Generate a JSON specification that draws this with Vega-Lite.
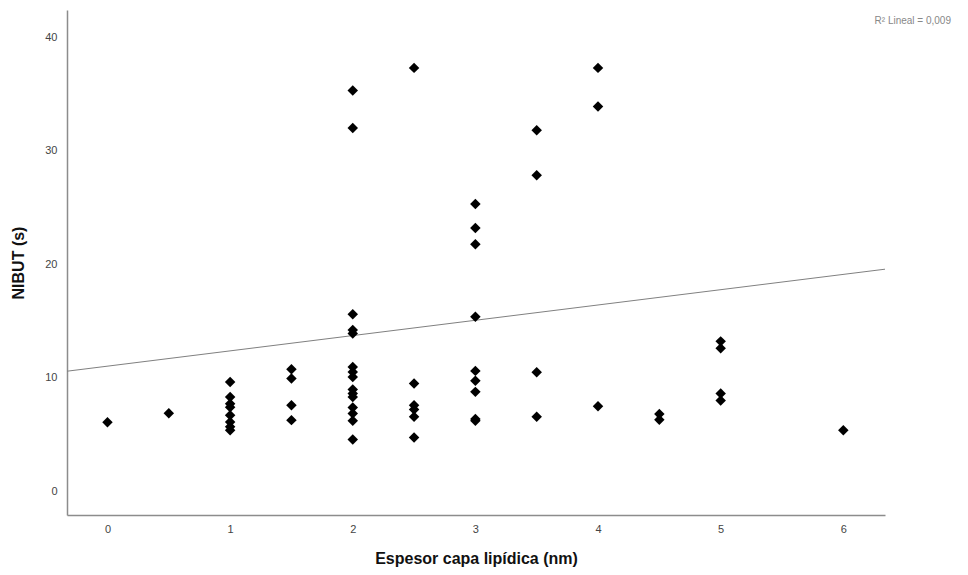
{
  "$schema": "https://vega.github.io/schema/vega-lite/v6.json",
  "width": 818,
  "height": 505,
  "autosize": {"type": "none"},
  "padding": {"left": 67, "top": 10, "right": 83, "bottom": 60},
  "background": "white",
  "config": {
    "view": {"stroke": null},
    "font": "Liberation Sans",
    "axis": {"grid": false, "domainColor": "#8c8c8c", "domainWidth": 1.5, "ticks": false, "labelColor": "#444444", "labelFontSize": 11, "titleFontSize": 16, "titleFontWeight": "bold", "titleColor": "#111111"}
  },
  "title": {"text": "R² Lineal = 0,009", "anchor": "end", "orient": "top", "fontSize": 10, "fontWeight": "normal", "color": "#888888", "dx": 66, "dy": 16, "offset": 0},
  "datasets": {
    "pts": [
      {"espesor": 0, "nibut": 6.08},
      {"espesor": 0.5, "nibut": 6.87},
      {"espesor": 1, "nibut": 9.63},
      {"espesor": 1, "nibut": 8.3},
      {"espesor": 1, "nibut": 7.7},
      {"espesor": 1, "nibut": 7.4},
      {"espesor": 1, "nibut": 6.7},
      {"espesor": 1, "nibut": 6.1},
      {"espesor": 1, "nibut": 5.67},
      {"espesor": 1, "nibut": 5.37},
      {"espesor": 1.5, "nibut": 10.75},
      {"espesor": 1.5, "nibut": 9.93},
      {"espesor": 1.5, "nibut": 7.58},
      {"espesor": 1.5, "nibut": 6.26},
      {"espesor": 2, "nibut": 35.3},
      {"espesor": 2, "nibut": 32.0},
      {"espesor": 2, "nibut": 15.6},
      {"espesor": 2, "nibut": 14.2},
      {"espesor": 2, "nibut": 13.9},
      {"espesor": 2, "nibut": 10.95},
      {"espesor": 2, "nibut": 10.5},
      {"espesor": 2, "nibut": 10.07},
      {"espesor": 2, "nibut": 8.96},
      {"espesor": 2, "nibut": 8.6},
      {"espesor": 2, "nibut": 8.3},
      {"espesor": 2, "nibut": 7.37},
      {"espesor": 2, "nibut": 6.84},
      {"espesor": 2, "nibut": 6.2},
      {"espesor": 2, "nibut": 4.55},
      {"espesor": 2.5, "nibut": 37.3},
      {"espesor": 2.5, "nibut": 9.49},
      {"espesor": 2.5, "nibut": 7.58},
      {"espesor": 2.5, "nibut": 7.2},
      {"espesor": 2.5, "nibut": 6.55},
      {"espesor": 2.5, "nibut": 4.73},
      {"espesor": 3, "nibut": 25.3},
      {"espesor": 3, "nibut": 23.2},
      {"espesor": 3, "nibut": 21.76},
      {"espesor": 3, "nibut": 15.36},
      {"espesor": 3, "nibut": 10.6},
      {"espesor": 3, "nibut": 9.72},
      {"espesor": 3, "nibut": 8.75},
      {"espesor": 3, "nibut": 6.35},
      {"espesor": 3, "nibut": 6.2},
      {"espesor": 3.5, "nibut": 31.8},
      {"espesor": 3.5, "nibut": 27.84},
      {"espesor": 3.5, "nibut": 10.48},
      {"espesor": 3.5, "nibut": 6.55},
      {"espesor": 4, "nibut": 37.3},
      {"espesor": 4, "nibut": 33.9},
      {"espesor": 4, "nibut": 7.49},
      {"espesor": 4.5, "nibut": 6.8},
      {"espesor": 4.5, "nibut": 6.3},
      {"espesor": 5, "nibut": 13.2},
      {"espesor": 5, "nibut": 12.6},
      {"espesor": 5, "nibut": 8.6},
      {"espesor": 5, "nibut": 8.0},
      {"espesor": 6, "nibut": 5.37}
    ],
    "fit": [
      {"espesor": -0.33, "nibut": 10.57},
      {"espesor": 6.34, "nibut": 19.56}
    ]
  },
  "layer": [
    {
      "data": {"name": "fit"},
      "mark": {"type": "line", "color": "#808080", "strokeWidth": 1, "clip": true},
      "encoding": {
        "x": {"field": "espesor", "type": "quantitative"},
        "y": {"field": "nibut", "type": "quantitative"}
      }
    },
    {
      "data": {"name": "pts"},
      "mark": {"type": "point", "shape": "diamond", "filled": true, "color": "#000000", "opacity": 1, "size": 110},
      "encoding": {
        "x": {"field": "espesor", "type": "quantitative", "title": "Espesor capa lipídica (nm)",
          "scale": {"domain": [-0.33, 6.34], "nice": false, "zero": false},
          "axis": {"values": [0, 1, 2, 3, 4, 5, 6], "format": "d", "labelPadding": 8, "titlePadding": 16}},
        "y": {"field": "nibut", "type": "quantitative", "title": "NIBUT (s)",
          "scale": {"domain": [-2.1, 42.4], "nice": false, "zero": false},
          "axis": {"values": [0, 10, 20, 30, 40], "format": "d", "labelPadding": 10, "titlePadding": 18}}
      }
    }
  ]
}
